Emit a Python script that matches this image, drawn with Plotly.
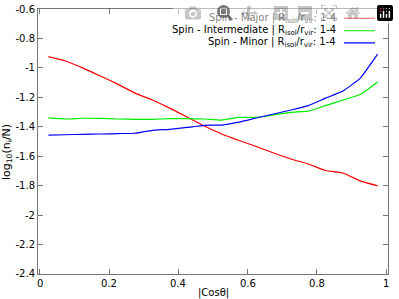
import plotly.graph_objects as go

cos_theta = [0.025, 0.075, 0.125, 0.175, 0.225, 0.275, 0.325, 0.375, 0.425, 0.475,
             0.525, 0.575, 0.625, 0.675, 0.725, 0.775, 0.825, 0.875, 0.925, 0.975]
spin_major = [-0.923, -0.953, -1.001, -1.055, -1.110, -1.171, -1.218, -1.273, -1.334, -1.395,
              -1.449, -1.493, -1.534, -1.578, -1.619, -1.653, -1.697, -1.714, -1.768, -1.802]
spin_inter = [-1.340, -1.347, -1.342, -1.343, -1.347, -1.349, -1.349, -1.345, -1.345, -1.347,
              -1.354, -1.336, -1.336, -1.320, -1.302, -1.293, -1.256, -1.218, -1.181, -1.096]
spin_minor = [-1.456, -1.454, -1.451, -1.449, -1.446, -1.444, -1.424, -1.417, -1.404, -1.390,
              -1.388, -1.368, -1.340, -1.313, -1.286, -1.256, -1.205, -1.157, -1.069, -0.906]

x_ticks = [0, 0.2, 0.4, 0.6, 0.8, 1]
x_tick_text = ["0", "0.2", "0.4", "0.6", "0.8", "1"]
y_ticks = [-2.4, -2.2, -2.0, -1.8, -1.6, -1.4, -1.2, -1.0, -0.8, -0.6]
y_tick_text = ["-2.4", "-2.2", "-2", "-1.8", "-1.6", "-1.4", "-1.2", "-1", "-0.8", "-0.6"]

labels = ["Spin - Major | R<sub>isol</sub>/r<sub>vir</sub>: 1-4",
          "Spin - Intermediate | R<sub>isol</sub>/r<sub>vir</sub>: 1-4",
          "Spin - Minor | R<sub>isol</sub>/r<sub>vir</sub>: 1-4"]
colors = ["#ff0000", "#00ee00", "#0000ff"]
series = [spin_major, spin_inter, spin_minor]

font = "DejaVu Sans"
fig = go.Figure()
for lab, col, ys in zip(labels, colors, series):
    fig.add_trace(go.Scatter(x=cos_theta, y=ys, mode="lines", name=lab,
                             line=dict(color=col, width=1.2, shape="spline", smoothing=0.4),
                             showlegend=False))

# legend drawn gnuplot-style (text right-aligned, sample line on the right)
leg_y = [0.965, 0.918, 0.872]
for lab, col, ly in zip(labels, colors, leg_y):
    fig.add_annotation(x=0.857, y=ly, xref="paper", yref="paper", text=lab,
                       showarrow=False, xanchor="right", yanchor="middle",
                       font=dict(family=font, size=10, color="#000"))
    fig.add_shape(type="line", xref="paper", yref="paper", x0=0.874, x1=0.963,
                  y0=ly, y1=ly, line=dict(color=col, width=1.2))

# x tick labels placed at the axis' own tick values
for tv, tt in zip(x_ticks, x_tick_text):
    fig.add_annotation(x=tv, y=0, xref="x", yref="paper", text=tt, showarrow=False,
                       xanchor="center", yanchor="top", yshift=-2,
                       font=dict(family=font, size=10, color="#000"))

# axis titles
fig.add_annotation(x=0.5, y=0, xref="paper", yref="paper", text="|Cosθ|", showarrow=False,
                   xanchor="center", yanchor="middle", yshift=-19,
                   font=dict(family=font, size=10, color="#000"))
fig.add_annotation(x=0, y=0.46, xref="paper", yref="paper",
                   text="log<sub>10</sub>(n<sub>i</sub>/N)", showarrow=False, textangle=-90,
                   xanchor="center", yanchor="middle", xshift=-31,
                   font=dict(family=font, size=11, color="#000"))

axis_common = dict(showline=True, linecolor="#777", linewidth=1, mirror="allticks",
                   ticks="inside", ticklen=5, tickcolor="#777", showgrid=False,
                   zeroline=False, automargin=False,
                   tickfont=dict(family=font, size=10, color="#000"))

fig.update_xaxes(range=[-0.005, 1.005], tickmode="array", tickvals=x_ticks, showticklabels=False,
                 **axis_common)
fig.update_yaxes(range=[-2.4009, -0.5991], tickmode="array", tickvals=y_ticks, ticktext=y_tick_text,
                 **axis_common)

fig.update_layout(width=399, height=299, margin=dict(l=38, r=11, t=9, b=25),
                  paper_bgcolor="white", plot_bgcolor="white",
                  font=dict(family=font, size=10, color="#000"))

fig.write_html("out.html")

# remove the browser's default page margin so the figure sits at the window's corner
with open("out.html", "r", encoding="utf-8") as f:
    html = f.read()
html = html.replace("<head>", "<head><style>html,body{margin:0;padding:0;overflow:hidden;}</style>", 1)
with open("out.html", "w", encoding="utf-8") as f:
    f.write(html)
